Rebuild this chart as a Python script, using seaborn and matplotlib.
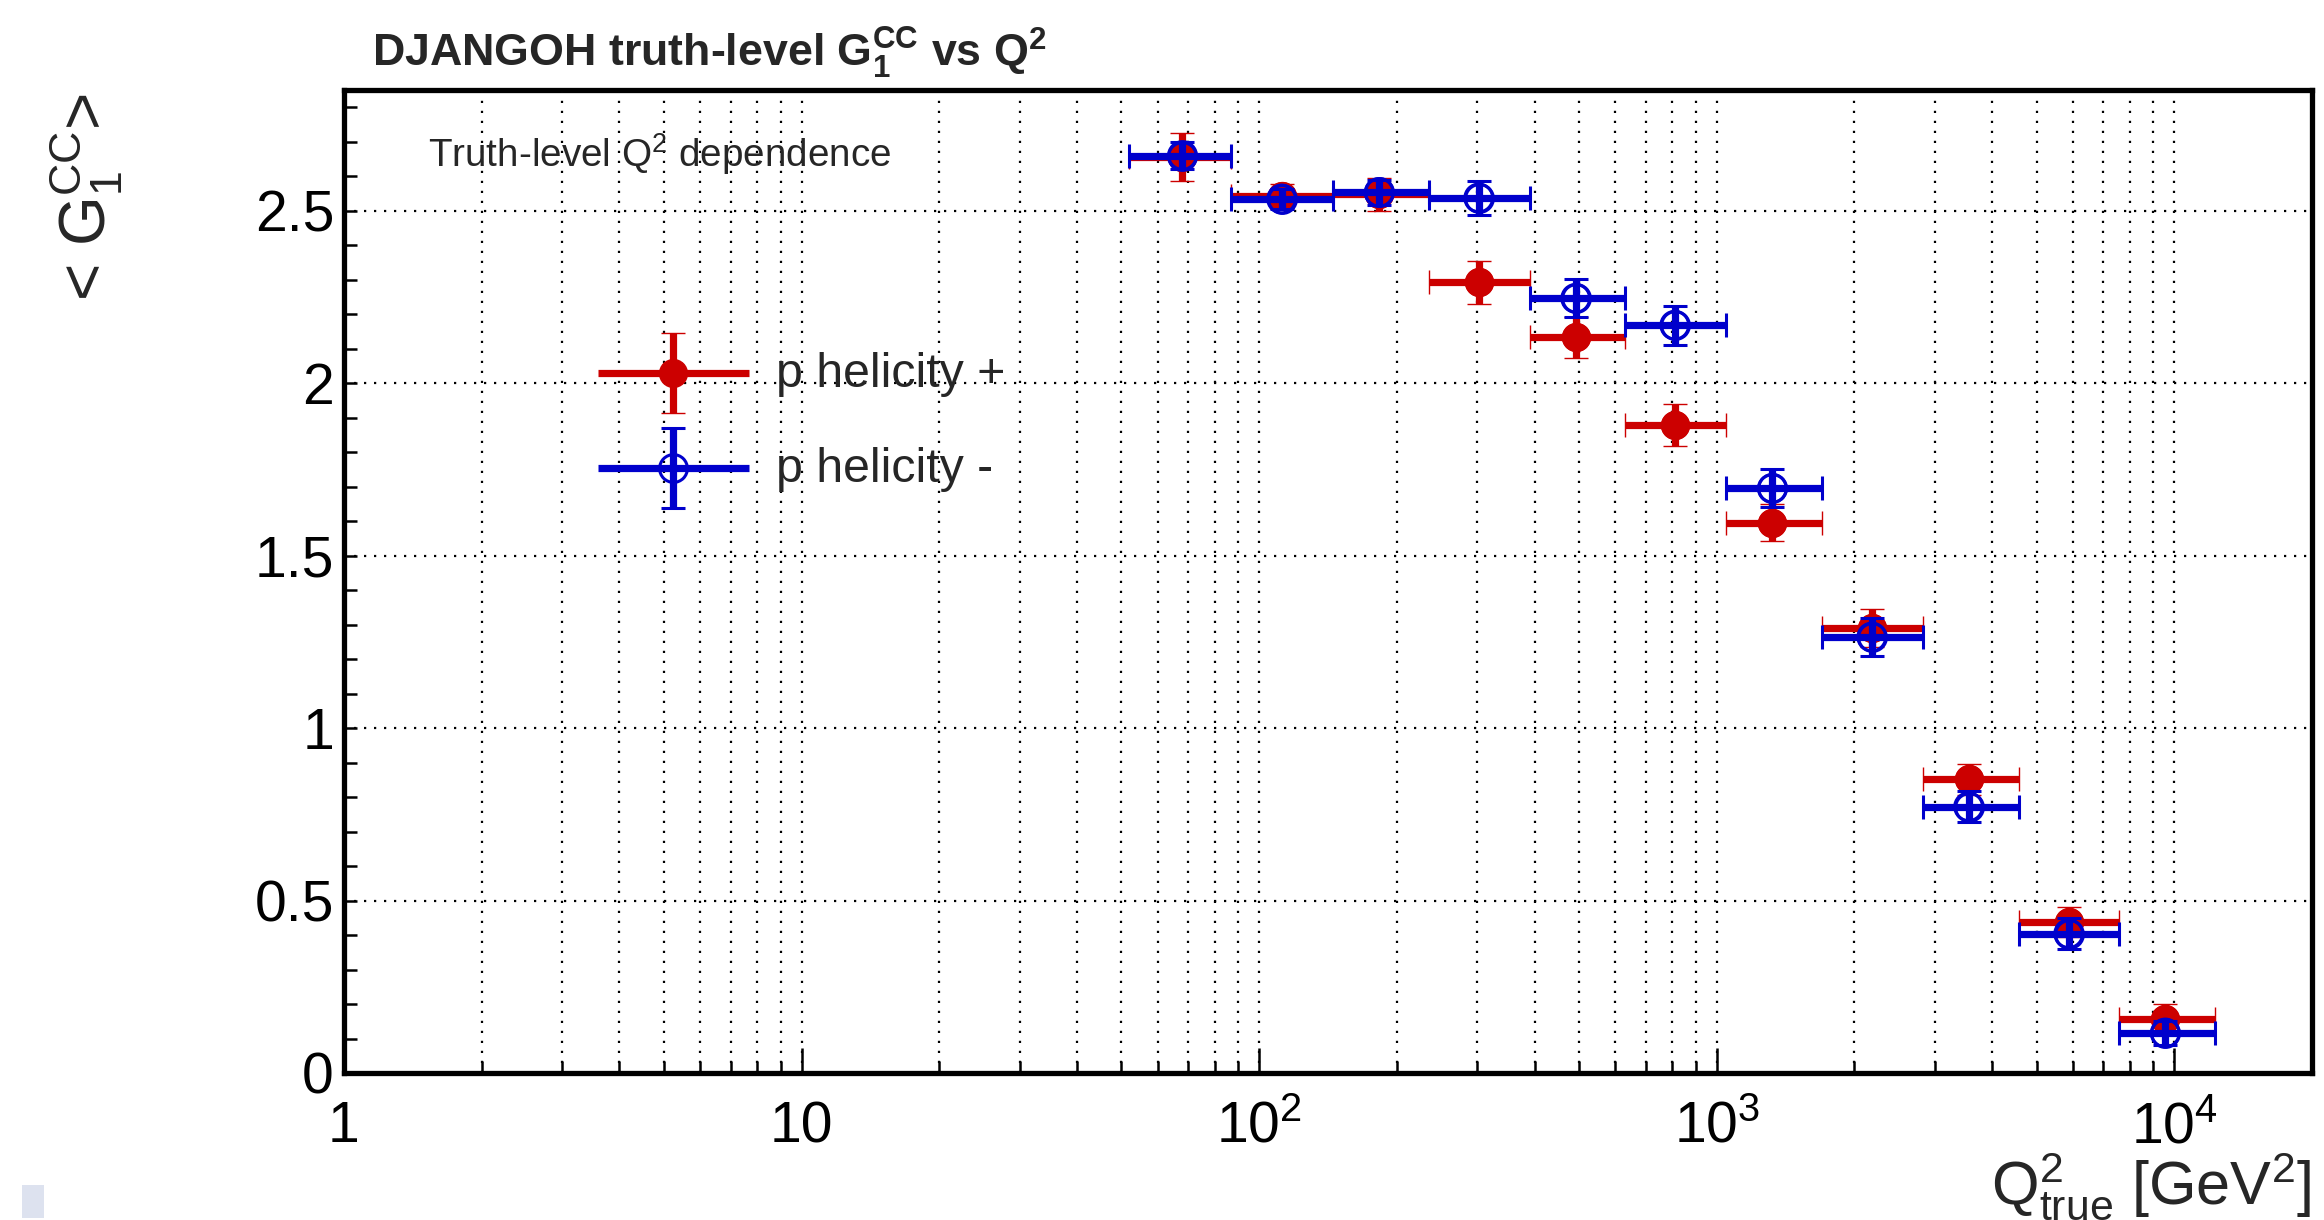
import numpy as np
import pandas as pd
import matplotlib
matplotlib.use("Agg")
import matplotlib.pyplot as plt
import seaborn as sns
from matplotlib.lines import Line2D
from matplotlib.legend_handler import HandlerErrorbar
from matplotlib.patches import Rectangle
from matplotlib.ticker import LogLocator, NullFormatter, MultipleLocator

# ---------------- data ----------------
q2_edges = [52, 87, 145, 235, 390, 630, 1050, 1700, 2820, 4570, 7590, 12300]
q2_centers = [68, 112, 183, 302, 492, 810, 1324, 2183, 3553, 5880, 9560]

g1_pos = [2.655, 2.543, 2.548, 2.292, 2.133, 1.878, 1.596, 1.289, 0.851, 0.438, 0.157]
g1_pos_err = [0.070, 0.035, 0.048, 0.061, 0.059, 0.061, 0.055, 0.055, 0.045, 0.044, 0.044]

g1_neg = [2.660, 2.534, 2.553, 2.537, 2.246, 2.168, 1.695, 1.264, 0.772, 0.404, 0.116]
g1_neg_err = [0.040, 0.030, 0.035, 0.050, 0.055, 0.056, 0.055, 0.055, 0.045, 0.044, 0.035]

series_labels = ["p helicity +", "p helicity -"]
x_tick_values = [1, 10, 100, 1000, 10000]
x_tick_labels = ["1", "10", r"$10^{2}$", r"$10^{3}$", r"$10^{4}$"]
y_tick_values = [0, 0.5, 1, 1.5, 2, 2.5]
y_tick_labels = ["0", "0.5", "1", "1.5", "2", "2.5"]

RED = "#cc0000"
BLUE = "#0000cc"

# ---------------- style ----------------
sns.set_theme(style="white")
plt.rcParams["font.family"] = ["Liberation Sans", "DejaVu Sans"]
plt.rcParams["mathtext.fontset"] = "custom"
plt.rcParams["mathtext.rm"] = "Liberation Sans"
plt.rcParams["mathtext.it"] = "Liberation Sans:italic"
plt.rcParams["mathtext.bf"] = "Liberation Sans:bold"
plt.rcParams["axes.unicode_minus"] = False

df = pd.DataFrame({
    "Q2": q2_centers * 2,
    "G1": g1_pos + g1_neg,
    "helicity": [series_labels[0]] * len(q2_centers) + [series_labels[1]] * len(q2_centers),
})

fig = plt.figure(figsize=(11.62, 6.10), dpi=200)
ax = fig.add_axes([344 / 2324, 1 - 1073 / 1220, (2312 - 344) / 2324, (1073 - 90) / 1220])
ax.set_xscale("log")

lo = np.array(q2_edges[:-1], dtype=float)
hi = np.array(q2_edges[1:], dtype=float)
c = np.array(q2_centers, dtype=float)
xerr = np.vstack([c - lo, hi - c])

specs = [
    (g1_pos, g1_pos_err, RED, RED),
    (g1_neg, g1_neg_err, BLUE, "none"),
]
handles = []
for i, (yv, ye, col, fc) in enumerate(specs):
    z = 3 + 2 * i
    cont = ax.errorbar(c, yv, xerr=xerr, yerr=ye, fmt="o", ms=10, mfc=fc, mec=col,
                       mew=1.1 if fc == "none" else 0.5, color=col, ecolor=col,
                       elinewidth=2.6, capsize=4.3, capthick=2.6, zorder=z)
    handles.append(cont)
    sub = df[df["helicity"] == series_labels[i]]
    sns.scatterplot(data=sub, x="Q2", y="G1", ax=ax, marker="o", s=10 ** 2,
                    color=col, facecolor=fc, edgecolor=col,
                    linewidth=1.1 if fc == "none" else 0.5,
                    legend=False, zorder=z + 1)

ax.set_xlabel("")
ax.set_ylabel("")
ax.set_xlim(1, 2e4)
ax.set_ylim(0, 2.85)

ax.set_xticks(x_tick_values, labels=x_tick_labels)
ax.xaxis.set_minor_locator(LogLocator(base=10, subs=np.arange(2, 10), numticks=20))
ax.xaxis.set_minor_formatter(NullFormatter())
ax.set_yticks(y_tick_values, labels=y_tick_labels)
ax.yaxis.set_minor_locator(MultipleLocator(0.1))

ax.tick_params(which="both", direction="in", top=False, right=False,
               width=0.9, colors="black", bottom=True, left=True)
ax.tick_params(axis="x", which="major", length=9, pad=25, labelsize=20.5)
ax.tick_params(axis="x", which="minor", length=4.3)
ax.tick_params(axis="y", which="major", length=4.8, pad=3.6, labelsize=20.5)
ax.tick_params(axis="y", which="minor", length=4.8)
for lbl in ax.get_xticklabels():
    lbl.set_va("baseline")

dots = (0, (1, 3.5))
ax.grid(True, which="major", axis="both", color="black", linestyle=dots, linewidth=0.8)
ax.grid(True, which="minor", axis="x", color="black", linestyle=dots, linewidth=0.8)
ax.set_axisbelow(True)

for s in ax.spines.values():
    s.set_visible(True)
    s.set_color("black")
    s.set_linewidth(1.9)


class NoXCapErrorbarHandler(HandlerErrorbar):
    """Errorbar legend entry: full-width horizontal bar, caps only on the vertical bar,
    centred on the middle of the label text."""

    def create_artists(self, legend, orig_handle, xdescent, ydescent, width,
                       height, fontsize, trans):
        arts = super().create_artists(legend, orig_handle, xdescent,
                                      ydescent + 0.42 * fontsize,
                                      width, height, fontsize, trans)
        for a in arts:
            if isinstance(a, Line2D) and a.get_marker() == "|":
                a.set_visible(False)
        return arts


hmap = {h: NoXCapErrorbarHandler(xerr_size=1.56, yerr_size=0.83, numpoints=1) for h in handles}
ax.legend(handles, series_labels, handler_map=hmap, loc="upper left",
          bbox_to_anchor=(598 / 2324, 1 - 339 / 1220), bbox_transform=fig.transFigure,
          frameon=False, fontsize=17.4, handlelength=3.12, handleheight=1.66,
          handletextpad=0.56, labelspacing=0.64, borderpad=0, borderaxespad=0,
          numpoints=1)

# titles and labels
fig.text(372 / 2324, 1 - 67 / 1220,
         r"DJANGOH truth-level $\mathbf{G_{1}^{CC}}$ vs $\mathbf{Q^{2}}$",
         fontsize=16.1, fontweight="bold", ha="left", va="baseline")
fig.text(428 / 2324, 1 - 167 / 1220, r"Truth-level $\mathrm{Q}^{2}$ dependence",
         fontsize=13.9, ha="left", va="baseline")
fig.text(86 / 2324, 1 - 93 / 1220, r"< $\mathrm{G_{1}^{CC}}$>", rotation=90,
         fontsize=23, ha="center", va="top")
fig.text(2311 / 2324, 1 - 1204 / 1220, r"$\mathrm{Q^{2}_{true}}$ [GeV$^{2}$]",
         fontsize=22, ha="right", va="baseline")

fig.patches.append(Rectangle((22 / 2324, 1 - 1218 / 1220), 22 / 2324, 33 / 1220,
                             transform=fig.transFigure, facecolor="#dde2ef",
                             edgecolor="none"))

fig.savefig("out.png", dpi=200, facecolor="white")
